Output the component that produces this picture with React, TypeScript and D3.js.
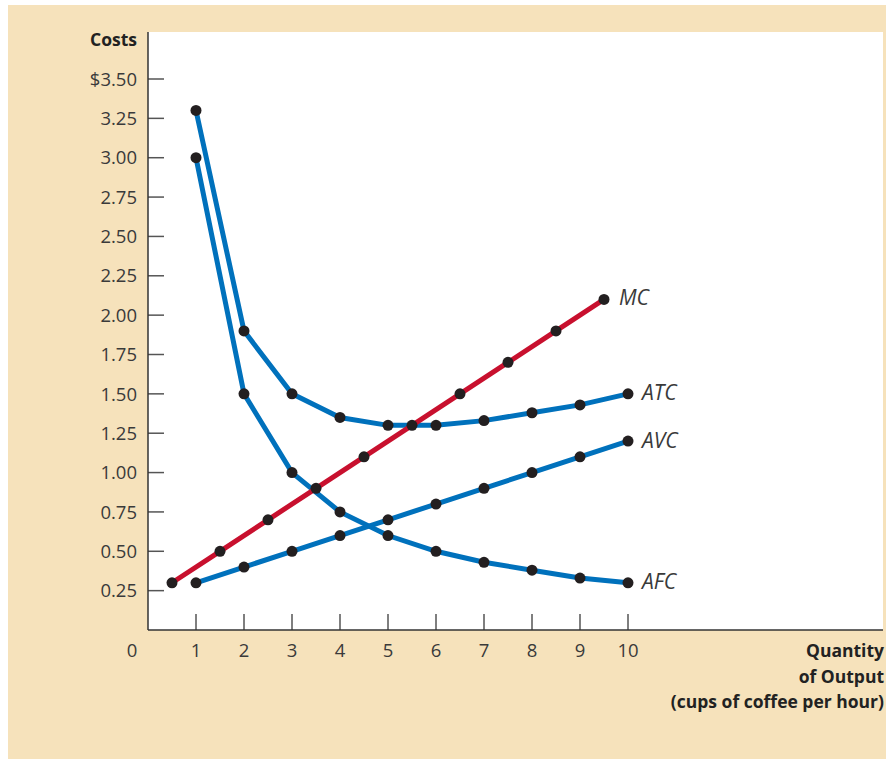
import React, { useEffect, useRef } from 'react';
import * as d3 from 'd3';

// Quantity of output (cups of coffee per hour)
const quantities = [1, 2, 3, 4, 5, 6, 7, 8, 9, 10];
// MC is plotted between quantities
const mcQuantities = [0.5, 1.5, 2.5, 3.5, 4.5, 5.5, 6.5, 7.5, 8.5, 9.5];
const mcValues = [0.3, 0.5, 0.7, 0.9, 1.1, 1.3, 1.5, 1.7, 1.9, 2.1];
const atcValues = [3.3, 1.9, 1.5, 1.35, 1.3, 1.3, 1.33, 1.38, 1.43, 1.5];
const avcValues = [0.3, 0.4, 0.5, 0.6, 0.7, 0.8, 0.9, 1.0, 1.1, 1.2];
const afcValues = [3.0, 1.5, 1.0, 0.75, 0.6, 0.5, 0.43, 0.38, 0.33, 0.3];

const yTicks = [0.25, 0.5, 0.75, 1.0, 1.25, 1.5, 1.75, 2.0, 2.25, 2.5, 2.75, 3.0, 3.25, 3.5];
const xTicks = [1, 2, 3, 4, 5, 6, 7, 8, 9, 10];
const xTitleLines = ['Quantity', 'of Output', '(cups of coffee per hour)'];

const BLUE = '#0071bc';
const RED = '#c8102e';
const DOT = '#231f20';
const TEXT = '#3a3a3a';
const BEIGE = '#f6e2bb';

export default function App() {
  const svgRef = useRef<SVGSVGElement | null>(null);

  useEffect(() => {
    if (!svgRef.current) return;
    d3.select(svgRef.current).selectAll('*').remove();

    const width = 886;
    const height = 759;
    const plotLeft = 148;
    const plotTop = 32;
    const plotRight = 883;
    const plotBottom = 630;

    const svg = d3.select(svgRef.current)
      .attr('width', width)
      .attr('height', height)
      .style('display', 'block');

    // beige panel + white plot area
    svg.append('rect')
      .attr('x', 8).attr('y', 5)
      .attr('width', width - 8).attr('height', height - 5)
      .attr('fill', BEIGE);
    svg.append('rect')
      .attr('x', plotLeft).attr('y', plotTop)
      .attr('width', plotRight - plotLeft).attr('height', plotBottom - plotTop)
      .attr('fill', '#fff');

    const x = d3.scaleLinear().domain([0, 10]).range([plotLeft, plotLeft + 480]);
    const y = d3.scaleLinear().domain([0, 3.5]).range([plotBottom, 79]);

    const font = "'Open Sans', sans-serif";

    // y ticks
    const yt = svg.append('g');
    yt.selectAll('line')
      .data(yTicks)
      .join('line')
      .attr('x1', plotLeft).attr('x2', plotLeft + 16)
      .attr('y1', d => y(d)).attr('y2', d => y(d))
      .attr('stroke', '#555').attr('stroke-width', 1.5);
    yt.selectAll('text')
      .data(yTicks)
      .join('text')
      .attr('x', 137)
      .attr('y', d => y(d))
      .attr('dy', '0.36em')
      .attr('text-anchor', 'end')
      .attr('font-family', font)
      .attr('font-size', 18.5)
      .attr('fill', TEXT)
      .text(d => (d === 3.5 ? '$' : '') + d3.format('.2f')(d));

    // x ticks
    const xt = svg.append('g');
    xt.selectAll('line')
      .data(xTicks)
      .join('line')
      .attr('x1', d => x(d)).attr('x2', d => x(d))
      .attr('y1', plotBottom).attr('y2', plotBottom - 16)
      .attr('stroke', '#555').attr('stroke-width', 1.5);
    xt.selectAll('text')
      .data([0, ...xTicks])
      .join('text')
      .attr('x', d => (d === 0 ? 132 : x(d)))
      .attr('y', 657)
      .attr('text-anchor', 'middle')
      .attr('font-family', font)
      .attr('font-size', 18.5)
      .attr('fill', TEXT)
      .text(d => d);

    // axes
    svg.append('line')
      .attr('x1', plotLeft).attr('x2', plotLeft)
      .attr('y1', plotTop).attr('y2', plotBottom)
      .attr('stroke', '#333').attr('stroke-width', 1.5);
    svg.append('line')
      .attr('x1', plotLeft).attr('x2', plotRight)
      .attr('y1', plotBottom).attr('y2', plotBottom)
      .attr('stroke', '#333').attr('stroke-width', 1.5);

    svg.append('text')
      .attr('x', 137).attr('y', 46)
      .attr('text-anchor', 'end')
      .attr('font-family', font)
      .attr('font-weight', 'bold')
      .attr('font-size', 17.5)
      .attr('fill', '#222')
      .text('Costs');

    svg.append('g')
      .selectAll('text')
      .data(xTitleLines)
      .join('text')
      .attr('x', 884)
      .attr('y', (d, i) => 657 + i * 25.5)
      .attr('text-anchor', 'end')
      .attr('font-family', font)
      .attr('font-weight', 'bold')
      .attr('font-size', 17.5)
      .attr('fill', '#222')
      .text(d => d);

    const line = d3.line<[number, number]>()
      .x(d => x(d[0]))
      .y(d => y(d[1]));

    const series = [
      { name: 'AFC', xs: quantities, ys: afcValues, color: BLUE, lx: 642, ly: 581 },
      { name: 'AVC', xs: quantities, ys: avcValues, color: BLUE, lx: 642, ly: 440 },
      { name: 'ATC', xs: quantities, ys: atcValues, color: BLUE, lx: 642, ly: 392 },
      { name: 'MC', xs: mcQuantities, ys: mcValues, color: RED, lx: 619, ly: 297 },
    ];

    series.forEach(s => {
      const pts: [number, number][] = s.xs.map((q, i) => [q, s.ys[i]]);
      svg.append('path')
        .datum(pts)
        .attr('d', line)
        .attr('fill', 'none')
        .attr('stroke', s.color)
        .attr('stroke-width', 5);
    });

    series.forEach(s => {
      const pts: [number, number][] = s.xs.map((q, i) => [q, s.ys[i]]);
      svg.append('g')
        .selectAll('circle')
        .data(pts)
        .join('circle')
        .attr('cx', d => x(d[0]))
        .attr('cy', d => y(d[1]))
        .attr('r', 5.5)
        .attr('fill', DOT);
      svg.append('text')
        .attr('x', s.lx).attr('y', s.ly)
        .attr('dy', '0.36em')
        .attr('font-family', font)
        .attr('font-style', 'italic')
        .attr('font-size', 21)
        .attr('fill', TEXT)
        .text(s.name);
    });
  }, []);

  return (
    <div style={{ position: 'absolute', left: 0, top: 0 }}>
      <svg ref={svgRef}></svg>
    </div>
  );
}
